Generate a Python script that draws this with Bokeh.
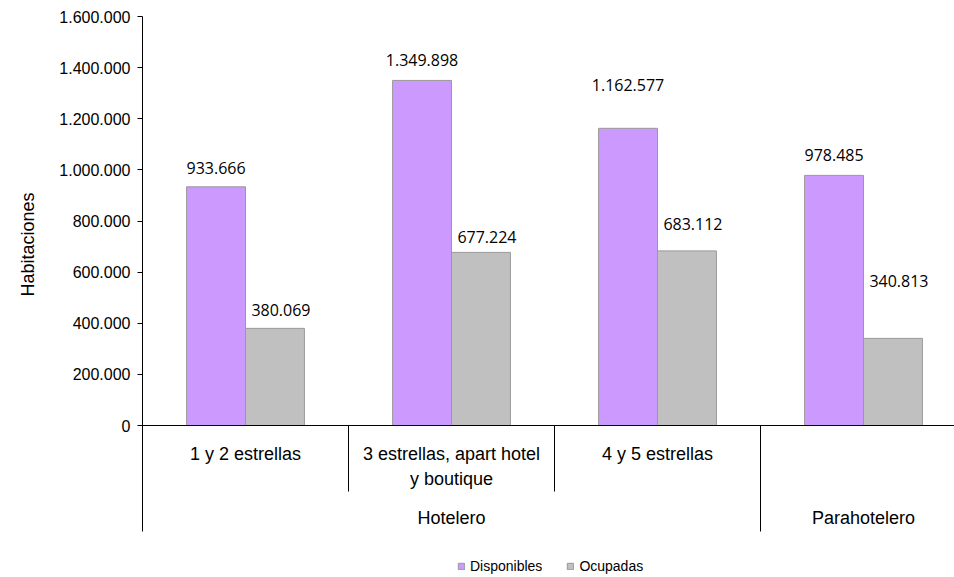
from bokeh.plotting import figure
from bokeh.models import (ColumnDataSource, Range1d, FixedTicker, Legend,
                          LegendItem, Span, Title)
from bokeh.core.properties import value
from bokeh.embed import file_html
from bokeh.resources import INLINE

# ---------------- data ----------------
subcategories = ["1 y 2 estrellas", "3 estrellas, apart hotel\ny boutique", "4 y 5 estrellas", ""]
groups = ["Hotelero", "Parahotelero"]
group_sizes = [3, 1]
series_names = ["Disponibles", "Ocupadas"]
disponibles = [933666, 1349898, 1162577, 978485]
ocupadas = [380069, 677224, 683112, 340813]
y_ticks = [0, 200000, 400000, 600000, 800000, 1000000, 1200000, 1400000, 1600000]
y_tick_labels = ["0", "200.000", "400.000", "600.000", "800.000", "1.000.000",
                 "1.200.000", "1.400.000", "1.600.000"]
y_title = "Habitaciones"

# ---------------- layout / style ----------------
W, H = 954, 576
B_LEFT, B_TOP, B_BOTTOM, B_RIGHT = 142, 16, 0, 0
FRAME_W = W - B_LEFT - B_RIGHT
FRAME_H = H - B_TOP - B_BOTTOM
SLOT_PX = 206
ZERO_FROM_TOP = 409
AXIS_BELOW_ZERO = 106
Y_MAX = 1600000
UPP = Y_MAX / ZERO_FROM_TOP               # data units per pixel
Y_MIN = -(FRAME_H - ZERO_FROM_TOP) * UPP
X_END = FRAME_W / SLOT_PX
BAR_W = 0.286
PURPLE = "#CC99FF"
GRAY = "#C0C0C0"
EDGE = "#999999"
SANS = "Liberation Sans"
lift_disp = [19, 20, 43, 20]     # label distance above bar top (px)
lift_ocup = [18, 15, 27, 57]

def fmt(v):
    return f"{v:,}".replace(",", ".")

p = figure(width=W, height=H, output_backend="svg", toolbar_location=None,
           x_range=Range1d(0, X_END), y_range=Range1d(Y_MIN, Y_MAX),
           x_axis_location=None, min_border_left=B_LEFT, min_border_top=B_TOP,
           min_border_bottom=B_BOTTOM, min_border_right=B_RIGHT)
p.outline_line_color = None
p.grid.visible = False
p.background_fill_color = "white"

n = len(disponibles)
idx = list(range(n))
src_d = ColumnDataSource(dict(x=[i + 0.5 - BAR_W / 2 for i in idx], top=disponibles,
                              lab=[fmt(v) for v in disponibles],
                              yo=[-l for l in lift_disp]))
src_o = ColumnDataSource(dict(x=[i + 0.5 + BAR_W / 2 for i in idx], top=ocupadas,
                              lab=[fmt(v) for v in ocupadas],
                              yo=[-l for l in lift_ocup]))

r_d = p.vbar(x="x", top="top", bottom=0, width=BAR_W, source=src_d,
             fill_color=PURPLE, line_color=EDGE, line_width=1)
r_o = p.vbar(x="x", top="top", bottom=0, width=BAR_W, source=src_o,
             fill_color=GRAY, line_color=EDGE, line_width=1)

p.text(x="x", y="top", text="lab", y_offset="yo", source=src_d,
       text_align="center", text_baseline="middle",
       text_font=value("Open Sans"), text_font_size="16px", text_color="black")
p.text(x="x", y="top", text="lab", y_offset="yo", x_offset=6, source=src_o,
       text_align="center", text_baseline="middle",
       text_font=value("Open Sans"), text_font_size="16px", text_color="black")

# x axis line
p.add_layout(Span(location=0, dimension="width", line_color="black", line_width=1))

# category labels
cx, cy, ct, co = [], [], [], []
for i, s in enumerate(subcategories):
    for k, line in enumerate(s.split("\n")):
        if line:
            cx.append(i + 0.5); cy.append(0); ct.append(line); co.append(28 + 25 * k)
p.text(x=cx, y=cy, text=ct, y_offset=co, text_align="center", text_baseline="middle",
       text_font=value(SANS), text_font_size="18px", text_color="black")

gx, gt = [], []
start = 0
bounds = [0]
for g, size in zip(groups, group_sizes):
    gx.append(start + size / 2); gt.append(g)
    start += size
    bounds.append(start)
p.text(x=gx, y=[0] * len(gx), text=gt, y_offset=92, text_align="center",
       text_baseline="middle", text_font=value(SANS), text_font_size="18px",
       text_color="black")

# dividers
inner = [i for i in range(1, n) if i not in bounds]
p.segment(x0=inner, y0=[0] * len(inner), x1=inner, y1=[-66 * UPP] * len(inner),
          line_color="black", line_width=1)
outer = [b for b in bounds if b > 0]
p.segment(x0=outer, y0=[0] * len(outer), x1=outer,
          y1=[-AXIS_BELOW_ZERO * UPP] * len(outer), line_color="black", line_width=1)

# y axis
ax = p.yaxis[0]
ax.bounds = (-AXIS_BELOW_ZERO * UPP, Y_MAX)
ax.ticker = FixedTicker(ticks=y_ticks)
ax.major_label_overrides = {t: l for t, l in zip(y_ticks, y_tick_labels)}
ax.major_tick_out = 5
ax.major_tick_in = 0
ax.minor_tick_line_color = None
ax.major_label_standoff = 7
ax.major_label_text_font = SANS
ax.major_label_text_font_size = "16px"
ax.major_label_text_color = "black"
ax.axis_line_color = "black"
ax.major_tick_line_color = "black"

# y title as a left-side title, placed where the reference has it
p.add_layout(Title(text=y_title, align="right", offset=176, vertical_align="top",
                   standoff=34, text_font=SANS, text_font_size="18px",
                   text_font_style="normal", text_color="black"), "left")

legend = Legend(items=[LegendItem(label=series_names[0], renderers=[r_d]),
                       LegendItem(label=series_names[1], renderers=[r_o])],
                orientation="horizontal", location=(315, 2),
                border_line_color=None, background_fill_alpha=0, padding=0, margin=0,
                spacing=24, label_standoff=5, glyph_width=8, glyph_height=8,
                label_height=16, label_text_font=SANS, label_text_font_size="14px",
                label_text_color="black")
p.add_layout(legend, "center")

open("out.html", "w").write(file_html(p, INLINE))
